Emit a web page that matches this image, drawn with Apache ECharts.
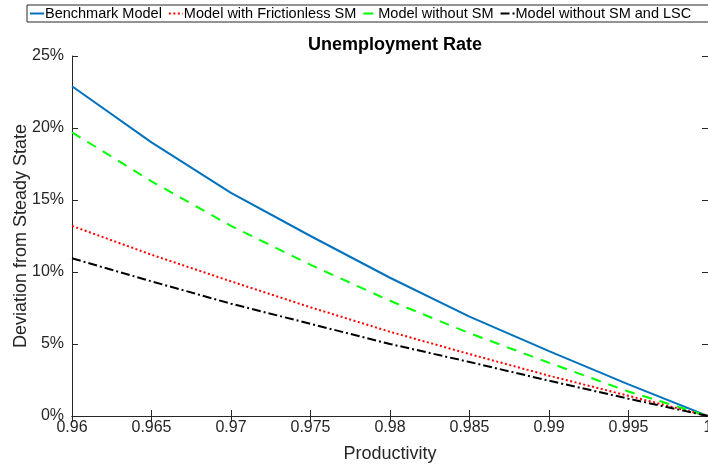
<!DOCTYPE html>
<html>
<head>
<meta charset="utf-8">
<script src="https://cdn.jsdelivr.net/npm/echarts@6/dist/echarts.min.js"></script>
<style>
html, body { margin: 0; padding: 0; background: #fff; }
#main { width: 708px; height: 466px; }
</style>
</head>
<body>
<div id="main"></div>
<script>
// productivity grid (x) and deviation from steady state in %
var productivity = [0.96, 0.965, 0.97, 0.975, 0.98, 0.985, 0.99, 0.995, 1.0];
var benchmark    = [22.9, 19.0, 15.5, 12.5, 9.6, 6.9, 4.5, 2.2, 0];
var frictionless = [13.2, 11.2, 9.35, 7.55, 5.85, 4.3, 2.8, 1.4, 0];
var withoutSM    = [19.7, 16.3, 13.2, 10.5, 8.0, 5.75, 3.7, 1.7, 0];
var withoutSMLSC = [10.95, 9.35, 7.8, 6.4, 5.0, 3.75, 2.45, 1.2, 0];
var yTicks = [0, 5, 10, 15, 20, 25];

var axisColor = '#262626';
var font = 'Liberation Sans, Arial, Helvetica, sans-serif';

function pairs(ys) {
    var out = [];
    for (var i = 0; i < productivity.length; i++) {
        out.push([productivity[i], ys[i]]);
    }
    return out;
}

function mkSeries(name, ys, color, dash) {
    return {
        name: name,
        type: 'line',
        data: pairs(ys),
        symbol: 'none',
        lineStyle: { color: color, width: 2, type: dash },
        itemStyle: { color: color },
        z: 3
    };
}

var chart = echarts.init(document.getElementById('main'), null, { renderer: 'canvas' });

var option = {
    animation: false,
    textStyle: { fontFamily: font },
    title: {
        text: 'Unemployment Rate',
        left: 390,
        textAlign: 'center',
        top: 31,
        textStyle: { fontSize: 18, fontWeight: 'bold', color: '#000', fontFamily: font }
    },
    legend: {
        left: 27,
        top: 5,
        width: 700,
        itemWidth: 14,
        itemHeight: 8,
        itemGap: 6,
        padding: [1, 20, 1, 2],
        borderColor: '#262626',
        borderWidth: 1,
        itemStyle: { opacity: 0 },
        textStyle: { fontSize: 14.5, color: '#000', fontFamily: font, padding: [0, 0, 0, -4] },
        data: ['Benchmark Model', 'Model with Frictionless SM', 'Model without SM', 'Model without SM and LSC']
    },
    grid: { left: 72, right: 0, top: 56, bottom: 50, outerBoundsMode: 'none', containLabel: false },
    xAxis: [{
        type: 'value',
        min: 0.96,
        max: 1.0,
        interval: 0.005,
        name: 'Productivity',
        nameLocation: 'middle',
        nameGap: 29,
        nameMoveOverlap: false,
        nameTextStyle: { fontSize: 18, color: axisColor },
        axisLine: { lineStyle: { color: axisColor, width: 1 } },
        axisTick: { inside: true, length: 6, lineStyle: { color: axisColor } },
        axisLabel: {
            fontSize: 16, color: axisColor, margin: 4,
            formatter: function (v) { return String(+v.toFixed(3)); }
        },
        splitLine: { show: false }
    }, {
        type: 'value',
        position: 'top',
        min: 0.96,
        max: 1.0,
        interval: 0.005,
        axisLine: { show: true, lineStyle: { color: axisColor, width: 1 } },
        axisTick: { show: true, inside: true, length: 6, lineStyle: { color: axisColor } },
        axisLabel: { show: false },
        splitLine: { show: false }
    }],
    yAxis: [{
        type: 'value',
        min: yTicks[0],
        max: yTicks[yTicks.length - 1],
        interval: 5,
        name: 'Deviation from Steady State',
        nameLocation: 'middle',
        nameGap: 42,
        nameMoveOverlap: false,
        nameTextStyle: { fontSize: 18, color: axisColor },
        axisLine: { show: true, lineStyle: { color: axisColor, width: 1 } },
        axisTick: { show: true, inside: true, length: 6, lineStyle: { color: axisColor } },
        axisLabel: { fontSize: 16, color: axisColor, margin: 8, formatter: '{value}%' },
        splitLine: { show: false }
    }, {
        type: 'value',
        position: 'right',
        min: yTicks[0],
        max: yTicks[yTicks.length - 1],
        interval: 5,
        axisLine: { show: true, lineStyle: { color: axisColor, width: 1 } },
        axisTick: { show: true, inside: true, length: 6, lineStyle: { color: axisColor } },
        axisLabel: { show: false },
        splitLine: { show: false }
    }],
    series: [
        mkSeries('Benchmark Model', benchmark, '#0072BD', 'solid'),
        mkSeries('Model with Frictionless SM', frictionless, '#FF0000', [2, 2.5]),
        mkSeries('Model without SM', withoutSM, '#00FF00', [10, 8]),
        mkSeries('Model without SM and LSC', withoutSMLSC, '#000000', [9, 3, 2, 3])
    ]
};

chart.setOption(option);
</script>
</body>
</html>
